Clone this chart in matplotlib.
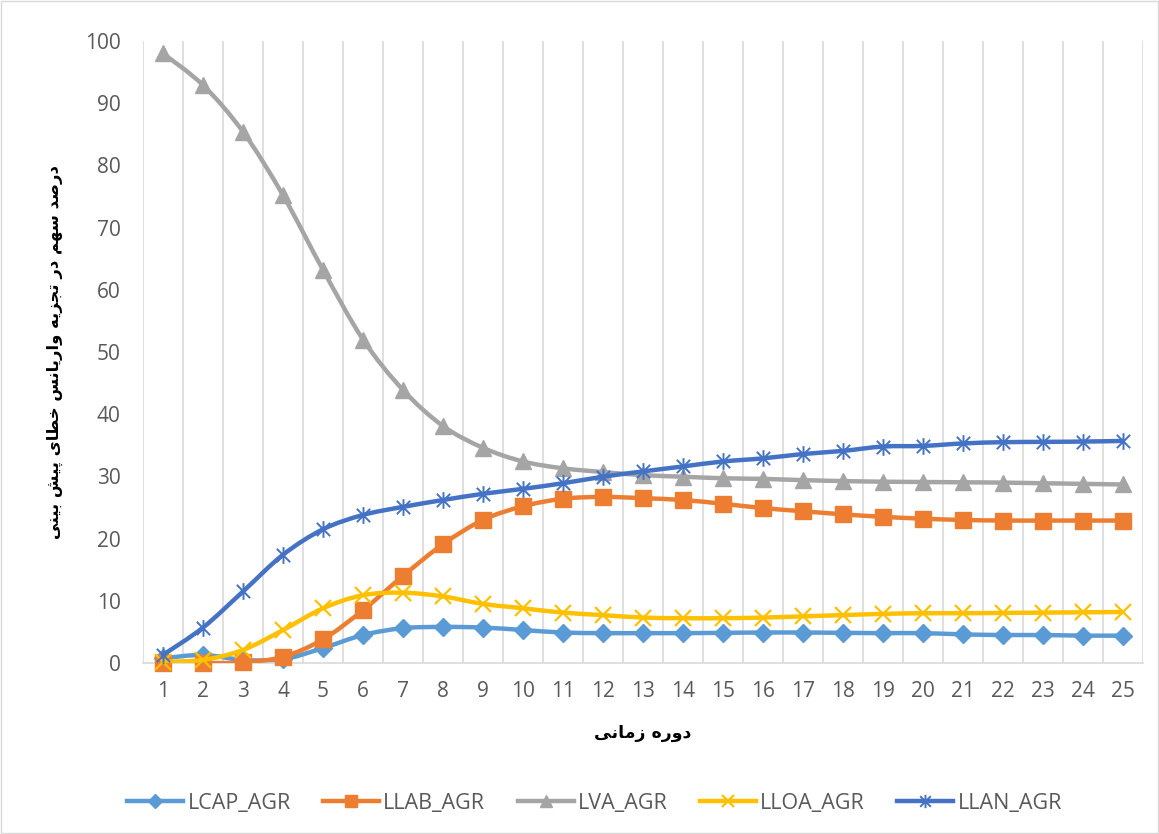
import numpy as np
import matplotlib
matplotlib.use("Agg")
import matplotlib.pyplot as plt
from matplotlib.path import Path
from matplotlib.patches import PathPatch, Rectangle
from matplotlib.lines import Line2D

periods = list(range(1, 26))
LCAP_AGR = [0.75, 1.3, 0.5, 0.6, 2.4, 4.5, 5.6, 5.8, 5.7, 5.3, 4.9, 4.8, 4.8, 4.8, 4.85,
            4.9, 4.9, 4.85, 4.8, 4.8, 4.6, 4.5, 4.5, 4.4, 4.4]
LLAB_AGR = [0.0, 0.0, 0.1, 1.0, 3.8, 8.5, 14.0, 19.1, 23.0, 25.2, 26.4, 26.7, 26.5, 26.2, 25.6,
            24.9, 24.4, 23.9, 23.5, 23.2, 23.0, 22.9, 22.9, 22.9, 22.9]
LVA_AGR = [98.0, 92.9, 85.4, 75.2, 63.2, 52.0, 43.9, 38.1, 34.6, 32.4, 31.3, 30.7, 30.2, 29.95, 29.7,
           29.6, 29.4, 29.25, 29.15, 29.1, 29.05, 29.0, 28.9, 28.8, 28.7]
LLOA_AGR = [0.2, 0.5, 2.1, 5.3, 8.8, 10.9, 11.3, 10.7, 9.5, 8.8, 8.1, 7.7, 7.3, 7.2, 7.2,
            7.3, 7.5, 7.7, 7.9, 8.0, 8.0, 8.05, 8.1, 8.15, 8.2]
LLAN_AGR = [1.3, 5.7, 11.5, 17.4, 21.5, 23.8, 25.1, 26.2, 27.2, 28.0, 28.9, 29.95, 30.8, 31.6, 32.4,
            32.9, 33.6, 34.1, 34.8, 34.9, 35.3, 35.5, 35.55, 35.6, 35.7]
series_names = ["LCAP_AGR", "LLAB_AGR", "LVA_AGR", "LLOA_AGR", "LLAN_AGR"]
series_values = [LCAP_AGR, LLAB_AGR, LVA_AGR, LLOA_AGR, LLAN_AGR]
series_colors = ["#5B9BD5", "#ED7D31", "#A5A5A5", "#FFC000", "#4472C4"]
y_ticks = list(range(0, 101, 10))

# Persian labels in presentation forms (visual order built below)
xlabel_logical = "\uFEA9\uFEED\uFEAD\uFEE9 \uFEAF\uFEE3\uFE8E\uFEE7\uFEF0"  # دوره زمانی
ylabel_logical = ("\uFEA9\uFEAD\uFEBB\uFEAA \uFEB3\uFEEC\uFEE2 \uFEA9\uFEAD "
                  "\uFE97\uFEA0\uFEB0\uFEF3\uFEEA \uFEED\uFE8D\uFEAD\uFEF3\uFE8E\uFEE7\uFEB2 "
                  "\uFEA7\uFEC4\uFE8E\uFEEF \uFB58\uFEF4\uFEB6 \uFE91\uFEF4\uFEE8\uFEF0")
xlabel_text = xlabel_logical[::-1]
ylabel_text = ylabel_logical[::-1]

# asterisk marker: X plus vertical bar
star_path = Path([(-1, -1), (1, 1), (-1, 1), (1, -1), (0, -1.25), (0, 1.25)],
                 [Path.MOVETO, Path.LINETO, Path.MOVETO, Path.LINETO, Path.MOVETO, Path.LINETO])
markers = ["D", "s", "^", "x", star_path]
msizes = [9, 11.5, 11, 11, 12]
mews = [1, 1, 1, 1.6, 1.4]


def smooth_path(xs, ys):
    pts = np.column_stack([xs, ys]).astype(float)
    n = len(pts)
    verts = [pts[0]]
    codes = [Path.MOVETO]
    for i in range(n - 1):
        p0 = pts[max(i - 1, 0)]
        p1 = pts[i]
        p2 = pts[i + 1]
        p3 = pts[min(i + 2, n - 1)]
        c1 = p1 + (p2 - p0) / 6.0
        c2 = p2 - (p3 - p1) / 6.0
        verts += [c1, c2, p2]
        codes += [Path.CURVE4] * 3
    return Path(verts, codes)


fig = plt.figure(figsize=(11.59, 8.34), dpi=100)
fig.patches.append(Rectangle((0.001, 0.001), 0.998, 0.998, transform=fig.transFigure,
                             fill=False, edgecolor="#D9D9D9", linewidth=1))
ax = fig.add_axes([143 / 1159, 1 - 663 / 834, 1000 / 1159, 622 / 834])

ax.set_xlim(0.5, 25.5)
ax.set_ylim(0, 100)
for b in np.arange(0.5, 26, 1.0):
    ax.axvline(b, color="#D9D9D9", lw=1.2, zorder=0)
for s in ["top", "right", "left"]:
    ax.spines[s].set_visible(False)
ax.spines["bottom"].set_color("#D9D9D9")
ax.spines["bottom"].set_linewidth(1.2)

handles = []
for k, (name, vals, col, mk, ms, mew) in enumerate(zip(series_names, series_values, series_colors,
                                                       markers, msizes, mews)):
    patch = PathPatch(smooth_path(periods, vals), facecolor="none", edgecolor=col,
                      lw=3.2, zorder=2 + k * 2, capstyle="round", joinstyle="round")
    ax.add_patch(patch)
    ax.plot(periods, vals, linestyle="none", marker=mk, markersize=ms, color=col,
            markeredgecolor=col, markeredgewidth=mew, zorder=3 + k * 2, clip_on=False)
    handles.append(Line2D([], [], color=col, lw=3.2, marker=mk, markersize=ms * 0.8,
                          markeredgewidth=mew, label=name))

ax.set_xticks(periods)
ax.set_xticklabels([str(p) for p in periods])
ax.set_yticks(y_ticks)
ax.tick_params(axis="both", length=0, labelsize=15, labelcolor="#595959")
ax.tick_params(axis="x", pad=13)
ax.tick_params(axis="y", pad=16)
for lab in ax.get_xticklabels() + ax.get_yticklabels():
    lab.set_fontfamily("Open Sans")

fig.text(0.5 * (143 + 1143) / 1159, 1 - 733 / 834, xlabel_text, ha="center", va="center",
         fontsize=12.5, fontweight="bold", family=["DejaVu Sans"], color="black")
fig.text(55 / 1159, 1 - 352 / 834, ylabel_text, ha="center", va="center", rotation=90,
         fontsize=11.8, fontweight="bold", family=["DejaVu Sans"], color="black")

leg = fig.legend(handles=handles, loc="center", bbox_to_anchor=(0.513, 1 - 803 / 834), ncol=5,
                 frameon=False, handlelength=2.6, columnspacing=1.5,
                 handletextpad=0.2, prop={"family": "Open Sans", "size": 15.5})
for t in leg.get_texts():
    t.set_color("#595959")

fig.savefig("out.png", dpi=100)
